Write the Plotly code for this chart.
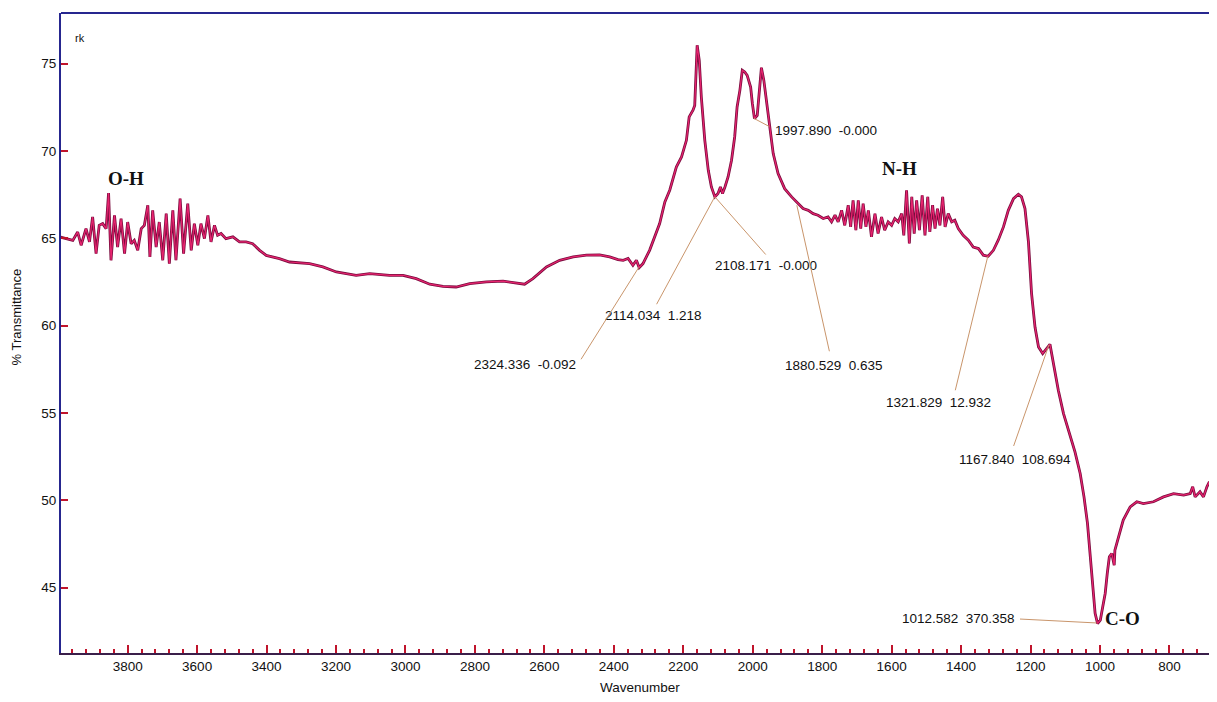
import plotly.graph_objects as go

# ---------------- data ----------------
wavenumber = [
    3997, 3978, 3958, 3944, 3934, 3920, 3910, 3901, 3891, 3882, 3872, 3862, 3855, 3848,
    3838, 3829, 3819, 3809, 3800, 3790, 3781, 3771, 3761, 3752, 3742, 3736, 3728, 3718,
    3709, 3699, 3689, 3680, 3670, 3661, 3649, 3639, 3627, 3617, 3608, 3598, 3589, 3579,
    3569, 3560, 3550, 3541, 3531, 3517, 3497, 3478, 3459, 3440, 3420, 3401, 3382, 3363,
    3334, 3276, 3238, 3199, 3142, 3103, 3046, 3007, 2969, 2930, 2892, 2854, 2815, 2767,
    2719, 2681, 2657, 2633, 2594, 2556, 2517, 2479,
    2441, 2412, 2388, 2373, 2359, 2345, 2335, 2327, 2316, 2297, 2282, 2268, 2253, 2239,
    2220, 2205, 2191, 2183, 2172, 2167, 2160, 2154, 2148, 2138, 2128, 2119, 2109, 2100,
    2093, 2087, 2080, 2071, 2061, 2052, 2045, 2037, 2030, 2023, 2016, 2006, 2001, 1995,
    1987, 1982, 1975, 1968, 1960, 1951, 1941, 1927, 1908, 1888, 1874, 1864,
    1855, 1840, 1826, 1812, 1797, 1783, 1773, 1763, 1754, 1744, 1735, 1725, 1718, 1711,
    1703, 1696, 1689, 1682, 1674, 1667, 1658, 1648, 1639, 1629, 1620, 1610, 1600, 1591,
    1581, 1571, 1565, 1557, 1549, 1542, 1535, 1528, 1520, 1512, 1504, 1496, 1490, 1482,
    1475, 1468, 1461, 1453, 1446, 1437, 1427, 1418, 1408, 1394, 1379, 1365, 1350, 1336,
    1322, 1307, 1293, 1278, 1264, 1249, 1235, 1226, 1216,
    1206, 1197, 1187,
    1177, 1165, 1151, 1144, 1134, 1120, 1105, 1086, 1072, 1057, 1046, 1036, 1029, 1021,
    1014, 1007, 999, 992, 985, 979, 973, 966, 959, 957, 947, 933, 913, 894, 875, 846,
    817, 788, 759, 740, 733, 726, 712, 702, 692, 685, 678, 671, 666, 663,
]

transmittance = [
    65.08, 64.98, 64.88, 65.36, 64.60, 65.55, 64.79, 66.22, 64.12, 65.74, 65.84, 65.55, 67.59, 63.74,
    66.31, 64.50, 66.12, 64.12, 65.93, 64.69, 64.88, 64.31, 65.55, 65.74, 66.89, 63.93, 66.60, 64.50,
    65.93, 63.74, 66.41, 63.55, 66.60, 63.74, 67.27, 64.12, 66.98, 64.31, 65.84, 64.60, 65.84, 64.98,
    66.31, 64.79, 65.74, 65.17, 65.27, 64.98, 65.08, 64.79, 64.79, 64.69, 64.31, 64.02, 63.93, 63.83,
    63.64, 63.55, 63.36, 63.07, 62.88, 62.98, 62.88, 62.88, 62.69, 62.37, 62.25, 62.21, 62.40, 62.50,
    62.54, 62.46, 62.37, 62.69, 63.36, 63.74, 63.93, 64.03,
    64.05, 63.93, 63.78, 63.74, 63.84, 63.45, 63.74, 63.32, 63.55, 64.31, 65.08, 65.84, 67.08, 67.75,
    69.08, 69.66, 70.61, 71.95, 72.33, 72.61, 76.05, 75.19, 73.09, 70.61, 68.89, 67.94, 67.37, 67.56,
    67.94, 67.56, 67.94, 68.51, 69.47, 70.80, 72.52, 73.47, 74.62, 74.52, 74.33, 73.66, 72.71, 71.85,
    72.04, 73.09, 74.77, 74.04, 72.71, 71.18, 69.85, 68.70, 67.84, 67.37, 67.08, 66.89,
    66.70, 66.60, 66.41, 66.32, 66.13, 66.22, 65.94, 66.32, 65.94, 66.60, 65.74, 66.89, 65.65, 67.17,
    65.46, 67.17, 65.55, 66.98, 65.65, 66.60, 65.08, 66.41, 65.27, 66.22, 65.46, 65.94, 65.74, 66.13,
    65.94, 66.41, 65.17, 67.75, 64.70, 67.37, 65.27, 67.17, 65.46, 67.46, 65.17, 67.37, 65.36, 66.89,
    65.55, 66.70, 65.74, 67.37, 65.65, 66.41, 65.94, 66.03, 65.55, 65.17, 64.89, 64.50, 64.41, 64.03,
    63.97, 64.31, 64.89, 65.65, 66.60, 67.27, 67.52, 67.37, 66.70,
    64.80, 61.83, 59.90,
    58.78, 58.40, 58.78, 58.93, 57.83, 56.30, 54.96, 53.63, 52.77, 51.53, 50.19, 48.67, 47.14, 45.23,
    43.52, 42.94, 43.13, 43.90, 44.66, 45.81, 46.76, 46.95, 46.28, 47.14, 47.90, 48.86, 49.62, 49.91,
    49.81, 49.91, 50.19, 50.38, 50.29, 50.38, 50.77, 50.19, 50.48, 50.19, 50.77, 51.05, 50.77, 51.72,
    52.20, 52.29,
]

# peak-pick labels and the curve points they point to
peak_labels = ["1997.890  -0.000", "2108.171  -0.000", "2114.034  1.218", "2324.336  -0.092",
               "1880.529  0.635", "1321.829  12.932", "1167.840  108.694", "1012.582  370.358"]
peak_wn = [1997, 2108, 2110, 2328, 1873, 1323, 1147, 1010]
peak_t = [71.87, 67.35, 67.35, 63.34, 66.89, 63.97, 58.89, 42.97]

# functional-group labels
band_labels = ["O-H", "N-H", "C-O"]
band_wn = [3804, 1576, 936]
band_t = [68.43, 69.0, 43.25]

x_ticks = [3800, 3600, 3400, 3200, 3000, 2800, 2600, 2400, 2200, 2000, 1800, 1600, 1400, 1200, 1000, 800]
y_ticks = [45, 50, 55, 60, 65, 70, 75]

# ---------------- styling (pixel offsets for leader lines and labels) ----------------
# (arrow tail dx, dy) and (text centre dx, dy) in pixels, y measured downward
leader_tail = [(17, 9), (52, 59), (-59, 109), (-59, 94), (33, 148), (-33, 136), (-36, 103), (-78, -4)]
text_shift = [(72, 12), (51, 68), (-61, 118), (-114, 97), (37, 160), (-49, 146), (-34, 115), (-138, -4)]

LEADER = "#c9956b"
TICK_RED = "#c0142c"
AXIS_BLUE = "#26268f"
SANS = "Liberation Sans, Arial"

fig = go.Figure()
fig.add_trace(go.Scatter(x=wavenumber, y=transmittance, mode="lines",
                         line=dict(color="#7a0c3e", width=2.8), hoverinfo="skip", showlegend=False))
fig.add_trace(go.Scatter(x=wavenumber, y=transmittance, mode="lines",
                         line=dict(color="#e8246f", width=1.2), showlegend=False))

annotations = []
for lbl, wn, t, (tx, ty), (sx, sy) in zip(peak_labels, peak_wn, peak_t, leader_tail, text_shift):
    annotations.append(dict(x=wn, y=t, xref="x", yref="y", text=" ", showarrow=True,
                            ax=tx, ay=ty, arrowhead=0, arrowwidth=1, arrowcolor=LEADER,
                            standoff=0, startstandoff=0, font=dict(size=1)))
    annotations.append(dict(x=wn, y=t, xref="x", yref="y", text=lbl, showarrow=False,
                            xshift=sx, yshift=-sy, xanchor="center", yanchor="middle",
                            font=dict(family=SANS, size=13.5, color="#111111")))
for lbl, wn, t in zip(band_labels, band_wn, band_t):
    annotations.append(dict(x=wn, y=t, xref="x", yref="y", text="<b>" + lbl + "</b>", showarrow=False,
                            xanchor="center", yanchor="middle",
                            font=dict(family="Liberation Serif, Times New Roman", size=19, color="#111111")))
annotations.append(dict(x=0.0165, y=0.961, xref="paper", yref="paper", text="rk", showarrow=False,
                        xanchor="center", yanchor="middle",
                        font=dict(family=SANS, size=11, color="#111111")))
# axis titles
annotations.append(dict(x=0.5009, y=-0.0545, xref="paper", yref="paper", text="Wavenumber",
                        showarrow=False, xanchor="center", yanchor="middle",
                        font=dict(family=SANS, size=13.5, color="#111111")))
annotations.append(dict(x=-0.0385, y=0.525, xref="paper", yref="paper", text="% Transmittance",
                        showarrow=False, xanchor="center", yanchor="middle", textangle=-90,
                        font=dict(family=SANS, size=13, color="#111111")))

fig.update_layout(
    width=1209, height=686,
    margin=dict(l=53, r=0, t=5, b=41),
    paper_bgcolor="white", plot_bgcolor="white",
    annotations=annotations,
    shapes=[dict(type="line", xref="paper", yref="paper", x0=0, x1=1, y0=1, y1=1,
                 line=dict(color=AXIS_BLUE, width=2))],
    xaxis=dict(range=[3992, 663], tickmode="array", tickvals=x_ticks,
               ticks="inside", ticklen=8, tickwidth=2, tickcolor=TICK_RED,
               minor=dict(ticks="inside", ticklen=4, tickwidth=2, tickcolor=TICK_RED, tick0=0, dtick=40),
               showline=True, linecolor="#3a1f4a", linewidth=2, showgrid=False, zeroline=False,
               tickfont=dict(family=SANS, size=13.5, color="#111111")),
    yaxis=dict(range=[41.25, 77.9], tickmode="array", tickvals=y_ticks,
               ticks="inside", ticklen=7, tickwidth=2, tickcolor=TICK_RED,
               showline=True, linecolor=AXIS_BLUE, linewidth=2, showgrid=False, zeroline=False,
               tickfont=dict(family=SANS, size=13.5, color="#111111")),
)

fig.write_html("out.html")
